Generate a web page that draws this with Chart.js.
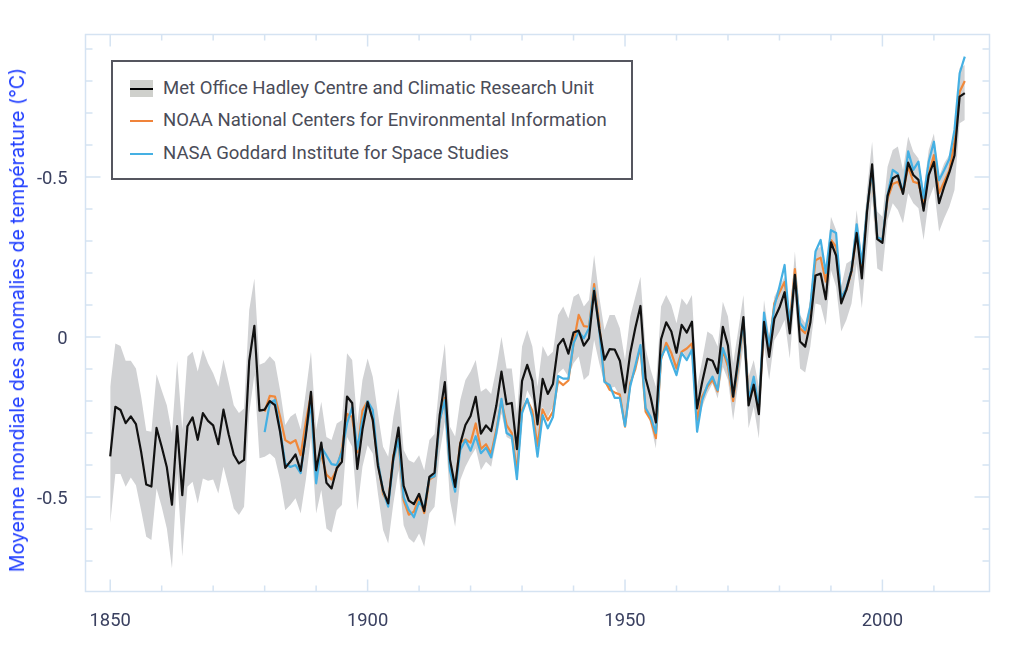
<!DOCTYPE html>
<html lang="fr">
<head>
<meta charset="utf-8">
<title>Moyenne mondiale des anomalies de température</title>
<script src="https://cdn.jsdelivr.net/npm/chart.js@4"></script>
<style>
    html, body { margin: 0; padding: 0; background: #fff; }
    #wrap { position: relative; width: 1024px; height: 659px; overflow: hidden; }
    #legend {
        position: absolute; left: 111px; top: 60px; width: 518px; height: 116px;
        border: 2px solid #55565f; background: #fff;
        font: 18.55px Roboto, sans-serif; color: #4a4c58;
    }
    .row { position: absolute; left: 50px; white-space: nowrap; line-height: 20px; }
    .key { position: absolute; left: 17px; width: 23px; height: 2px; }
    #band { position: absolute; left: 17px; top: 18px; width: 23px; height: 17px; background: #cfd0cc; }
    #ytitle {
        position: absolute; left: 17px; top: 320px; white-space: nowrap;
        transform: translate(-50%, -50%) rotate(-90deg);
        font: 19.6px Inter, sans-serif; color: #1f3dff;
    }
</style>
</head>
<body>
<div id="wrap">
    <canvas id="chart" width="1024" height="659"></canvas>
    <div id="ytitle">Moyenne mondiale des anomalies de température (°C)</div>
    <div id="legend">
        <div id="band"></div>
        <div class="key" style="top:26px;background:#000"></div>
        <div class="row" style="top:16px">Met Office Hadley Centre and Climatic Research Unit</div>
        <div class="key" style="top:58px;background:#f0833a"></div>
        <div class="row" style="top:48px">NOAA National Centers for Environmental Information</div>
        <div class="key" style="top:91px;background:#45b0e3"></div>
        <div class="row" style="top:81px">NASA Goddard Institute for Space Studies</div>
    </div>
</div>
<script>
const firstYear = 1850;
const firstYearOthers = 1880;

// Met Office Hadley Centre, 1850-2016
const hadley = [
    -0.373, -0.218, -0.228, -0.269, -0.248, -0.272, -0.358, -0.461, -0.467, -0.284,
    -0.343, -0.407, -0.524, -0.278, -0.494, -0.279, -0.251, -0.321, -0.238, -0.262,
    -0.276, -0.335, -0.227, -0.304, -0.368, -0.395, -0.384, -0.075, 0.035, -0.23,
    -0.227, -0.2, -0.213, -0.296, -0.409, -0.389, -0.367, -0.418, -0.307, -0.171,
    -0.416, -0.33, -0.455, -0.473, -0.41, -0.39, -0.186, -0.206, -0.412, -0.289,
    -0.203, -0.259, -0.402, -0.479, -0.52, -0.377, -0.283, -0.465, -0.511, -0.522,
    -0.49, -0.544, -0.437, -0.424, -0.244, -0.141, -0.383, -0.468, -0.333, -0.275,
    -0.247, -0.187, -0.302, -0.276, -0.294, -0.215, -0.108, -0.21, -0.206, -0.35,
    -0.137, -0.087, -0.137, -0.273, -0.131, -0.178, -0.147, -0.026, -0.006, -0.052,
    0.014, 0.02, -0.027, -0.004, 0.144, 0.025, -0.071, -0.038, -0.039, -0.074,
    -0.173, -0.052, 0.028, 0.097, -0.129, -0.19, -0.267, -0.007, 0.046, 0.017,
    -0.049, 0.038, 0.014, 0.048, -0.223, -0.14, -0.068, -0.074, -0.113, 0.032,
    -0.027, -0.186, -0.065, 0.062, -0.214, -0.149, -0.241, 0.047, -0.062, 0.057,
    0.092, 0.14, 0.011, 0.194, -0.014, -0.03, 0.045, 0.192, 0.198, 0.118,
    0.296, 0.254, 0.105, 0.148, 0.208, 0.325, 0.183, 0.39, 0.539, 0.306,
    0.294, 0.441, 0.496, 0.505, 0.447, 0.545, 0.506, 0.491, 0.395, 0.506,
    0.547, 0.418, 0.47, 0.514, 0.567, 0.751, 0.762
];

// grey uncertainty band, 1850-2016
const bandUpper = [
    -0.155, -0.02, -0.028, -0.074, -0.074, -0.098, -0.186, -0.293, -0.296, -0.116,
    -0.166, -0.213, -0.301, -0.074, -0.29, -0.061, -0.046, -0.108, -0.039, -0.082,
    -0.113, -0.155, -0.07, -0.14, -0.213, -0.237, -0.223, 0.084, 0.183, -0.087,
    -0.08, -0.06, -0.077, -0.166, -0.275, -0.249, -0.237, -0.29, -0.171, -0.046,
    -0.29, -0.202, -0.312, -0.322, -0.27, -0.26, -0.051, -0.072, -0.27, -0.134,
    -0.067, -0.124, -0.239, -0.343, -0.374, -0.249, -0.16, -0.353, -0.385, -0.393,
    -0.369, -0.416, -0.322, -0.303, -0.134, -0.02, -0.28, -0.311, -0.197, -0.134,
    -0.108, -0.072, -0.171, -0.16, -0.178, -0.098, 0.001, -0.098, -0.098, -0.239,
    -0.03, 0.022, -0.03, -0.155, -0.028, -0.061, -0.046, 0.069, 0.095, 0.058,
    0.126, 0.136, 0.095, 0.116, 0.256, 0.126, 0.022, 0.069, 0.069, 0.027,
    -0.072, 0.063, 0.126, 0.188, -0.035, -0.103, -0.155, 0.095, 0.131, 0.1,
    0.043, 0.121, 0.1, 0.131, -0.155, -0.072, 0.017, 0.006, -0.03, 0.11,
    0.064, -0.082, 0.022, 0.131, -0.124, -0.072, -0.155, 0.116, 0.001, 0.126,
    0.157, 0.188, 0.064, 0.267, 0.069, 0.043, 0.116, 0.272, 0.282, 0.188,
    0.376, 0.334, 0.157, 0.23, 0.24, 0.397, 0.251, 0.46, 0.61, 0.392,
    0.376, 0.532, 0.584, 0.595, 0.522, 0.626, 0.579, 0.558, 0.46, 0.584,
    0.636, 0.501, 0.543, 0.569, 0.616, 0.84, 0.85
];
const bandLower = [
    -0.582, -0.428, -0.428, -0.468, -0.439, -0.463, -0.541, -0.624, -0.634, -0.473,
    -0.53, -0.598, -0.723, -0.426, -0.686, -0.468, -0.452, -0.52, -0.442, -0.449,
    -0.445, -0.489, -0.405, -0.468, -0.536, -0.556, -0.53, -0.239, -0.119, -0.379,
    -0.374, -0.364, -0.379, -0.447, -0.541, -0.525, -0.504, -0.551, -0.447, -0.312,
    -0.551, -0.478, -0.598, -0.611, -0.541, -0.525, -0.312, -0.343, -0.541, -0.405,
    -0.338, -0.364, -0.489, -0.603, -0.645, -0.52, -0.416, -0.588, -0.629, -0.643,
    -0.614, -0.655, -0.551, -0.53, -0.364, -0.265, -0.51, -0.593, -0.447, -0.405,
    -0.374, -0.348, -0.416, -0.39, -0.405, -0.322, -0.239, -0.312, -0.322, -0.426,
    -0.239, -0.166, -0.197, -0.332, -0.218, -0.249, -0.218, -0.113, -0.098, -0.124,
    -0.082, -0.061, -0.134, -0.119, -0.009, -0.082, -0.145, -0.16, -0.155, -0.186,
    -0.27, -0.134, -0.093, -0.02, -0.218, -0.275, -0.348, -0.061, -0.041, -0.067,
    -0.124, -0.04, -0.067, -0.04, -0.29, -0.218, -0.176, -0.145, -0.192, -0.093,
    -0.134, -0.26, -0.145, -0.03, -0.285, -0.218, -0.317, -0.025, -0.134, -0.01,
    0.017, 0.053, -0.067, 0.126, -0.098, -0.111, -0.03, 0.105, 0.1, 0.037,
    0.209, 0.157, 0.017, 0.053, 0.105, 0.23, 0.09, 0.272, 0.439, 0.214,
    0.204, 0.365, 0.418, 0.397, 0.355, 0.449, 0.418, 0.402, 0.303, 0.428,
    0.47, 0.329, 0.371, 0.407, 0.459, 0.668, 0.678
];

// NOAA, 1880-2016
const noaa = [
    -0.233, -0.184, -0.186, -0.249, -0.322, -0.332, -0.322, -0.369, -0.265, -0.18,
    -0.42, -0.367, -0.43, -0.445, -0.415, -0.35, -0.24, -0.25, -0.36, -0.23,
    -0.2, -0.26, -0.39, -0.49, -0.52, -0.37, -0.325, -0.51, -0.555, -0.546,
    -0.5, -0.55, -0.445, -0.435, -0.26, -0.19, -0.41, -0.47, -0.33, -0.32,
    -0.33, -0.27, -0.35, -0.335, -0.365, -0.29, -0.2, -0.275, -0.3, -0.42,
    -0.228, -0.197, -0.23, -0.34, -0.226, -0.26, -0.233, -0.137, -0.15, -0.136,
    -0.02, 0.069, 0.034, 0.032, 0.165, 0.042, -0.134, -0.165, -0.173, -0.18,
    -0.28, -0.145, -0.1, -0.03, -0.233, -0.26, -0.316, -0.07, -0.018, -0.05,
    -0.098, -0.046, -0.036, -0.02, -0.26, -0.186, -0.155, -0.134, -0.17, -0.04,
    -0.093, -0.2, -0.09, 0.043, -0.18, -0.16, -0.223, 0.043, -0.036, 0.105,
    0.14, 0.172, 0.048, 0.212, 0.027, 0.012, 0.09, 0.24, 0.248, 0.173,
    0.303, 0.282, 0.127, 0.147, 0.204, 0.324, 0.21, 0.397, 0.511, 0.31,
    0.303, 0.432, 0.478, 0.485, 0.45, 0.533, 0.485, 0.48, 0.418, 0.511,
    0.568, 0.45, 0.485, 0.52, 0.61, 0.766, 0.8
];

// NASA, 1880-2016
const nasa = [
    -0.297, -0.206, -0.197, -0.29, -0.395, -0.406, -0.4, -0.425, -0.3, -0.207,
    -0.457, -0.345, -0.37, -0.397, -0.4, -0.36, -0.27, -0.22, -0.35, -0.26,
    -0.2, -0.228, -0.39, -0.48, -0.53, -0.385, -0.319, -0.5, -0.54, -0.563,
    -0.515, -0.535, -0.44, -0.435, -0.26, -0.197, -0.416, -0.483, -0.353, -0.322,
    -0.355, -0.31, -0.363, -0.346, -0.376, -0.3, -0.193, -0.3, -0.31, -0.444,
    -0.238, -0.193, -0.25, -0.374, -0.244, -0.285, -0.25, -0.122, -0.13, -0.13,
    -0.02, 0.017, -0.004, 0.027, 0.152, 0.022, -0.14, -0.15, -0.19, -0.19,
    -0.278, -0.155, -0.09, -0.025, -0.222, -0.25, -0.3, -0.065, -0.03, -0.077,
    -0.119, -0.05, -0.072, -0.04, -0.296, -0.197, -0.15, -0.124, -0.166, -0.035,
    -0.08, -0.186, -0.08, 0.053, -0.197, -0.124, -0.223, 0.076, -0.03, 0.095,
    0.157, 0.225, 0.032, 0.194, 0.043, 0.022, 0.095, 0.267, 0.303, 0.2,
    0.334, 0.325, 0.122, 0.152, 0.21, 0.352, 0.23, 0.397, 0.522, 0.313,
    0.303, 0.444, 0.522, 0.51, 0.45, 0.58, 0.522, 0.548, 0.434, 0.548,
    0.61, 0.49, 0.522, 0.556, 0.647, 0.824, 0.876
];

// the reference prints -0.5 on the upper tick as well
const xTickValues = [1850, 1900, 1950, 2000];
const yTickValues = [-0.5, 0, 0.5];
const yTickLabels = ["-0.5", "0", "-0.5"];
const xMinorTicks = [1860, 1870, 1880, 1890, 1910, 1920, 1930, 1940, 1960, 1970, 1980, 1990, 2010];
const yMinorTicks = [-0.7, -0.6, -0.4, -0.3, -0.2, -0.1, 0.1, 0.2, 0.3, 0.4, 0.6, 0.7, 0.8, 0.9];

function points(values, start) {
    return values.map((v, i) => ({ x: start + i, y: v }));
}

// frame and inward ticks on all four sides, placed through the scales
const frameTicks = {
    id: "frameTicks",
    afterDatasetsDraw(chart) {
        const { ctx, chartArea: a, scales } = chart;
        ctx.save();
        ctx.strokeStyle = "#d5e3f2";
        ctx.lineWidth = 1.5;
        ctx.strokeRect(a.left, a.top, a.right - a.left, a.bottom - a.top);
        ctx.beginPath();
        const xTick = (v, len) => {
            const p = scales.x.getPixelForValue(v);
            ctx.moveTo(p, a.top); ctx.lineTo(p, a.top + len);
            ctx.moveTo(p, a.bottom); ctx.lineTo(p, a.bottom - len);
        };
        const yTick = (v, len) => {
            const p = scales.y.getPixelForValue(v);
            ctx.moveTo(a.left, p); ctx.lineTo(a.left + len, p);
            ctx.moveTo(a.right, p); ctx.lineTo(a.right - len, p);
        };
        xTickValues.forEach(v => xTick(v, 12));
        xMinorTicks.forEach(v => xTick(v, 6));
        yTickValues.forEach(v => yTick(v, 15));
        yMinorTicks.forEach(v => yTick(v, 7));
        ctx.stroke();
        ctx.restore();
    }
};

new Chart(document.getElementById("chart").getContext("2d"), {
    type: "line",
    plugins: [frameTicks],
    data: {
        datasets: [
            { data: points(bandUpper, firstYear), borderWidth: 0, backgroundColor: "#d1d2d4", fill: "+1", order: 4 },
            { data: points(bandLower, firstYear), borderWidth: 0, fill: false, order: 4 },
            { data: points(noaa, firstYearOthers), borderColor: "#f0883a", borderWidth: 2.2, order: 3 },
            { data: points(nasa, firstYearOthers), borderColor: "#45b0e3", borderWidth: 2.2, order: 2 },
            { data: points(hadley, firstYear), borderColor: "#111", borderWidth: 2.2, order: 1 }
        ]
    },
    options: {
        responsive: false,
        animation: false,
        layout: { padding: { top: 34.5, right: 34.5 } },
        elements: { point: { radius: 0 }, line: { tension: 0, borderJoinStyle: "round" } },
        plugins: { legend: { display: false }, tooltip: { enabled: false } },
        scales: {
            x: {
                type: "linear",
                min: 1845.2,
                max: 2020.8,
                grid: { display: false },
                border: { display: false },
                afterFit(s) { s.height = 67.5; },
                afterBuildTicks(s) { s.ticks = xTickValues.map(v => ({ value: v })); },
                ticks: {
                    autoSkip: false, maxRotation: 0, padding: 11, color: "#3a4060",
                    font: { family: "Roboto", size: 18.4 },
                    callback: v => String(v)
                }
            },
            y: {
                type: "linear",
                min: -0.795,
                max: 0.945,
                grid: { display: false },
                border: { display: false },
                afterFit(s) { s.width = 85.5; },
                afterBuildTicks(s) { s.ticks = yTickValues.map(v => ({ value: v })); },
                ticks: {
                    autoSkip: false, padding: 10, labelOffset: 2, color: "#3a4060",
                    font: { family: "Roboto", size: 18.4 },
                    callback: v => yTickLabels[yTickValues.indexOf(v)]
                }
            }
        }
    }
});
</script>
</body>
</html>
